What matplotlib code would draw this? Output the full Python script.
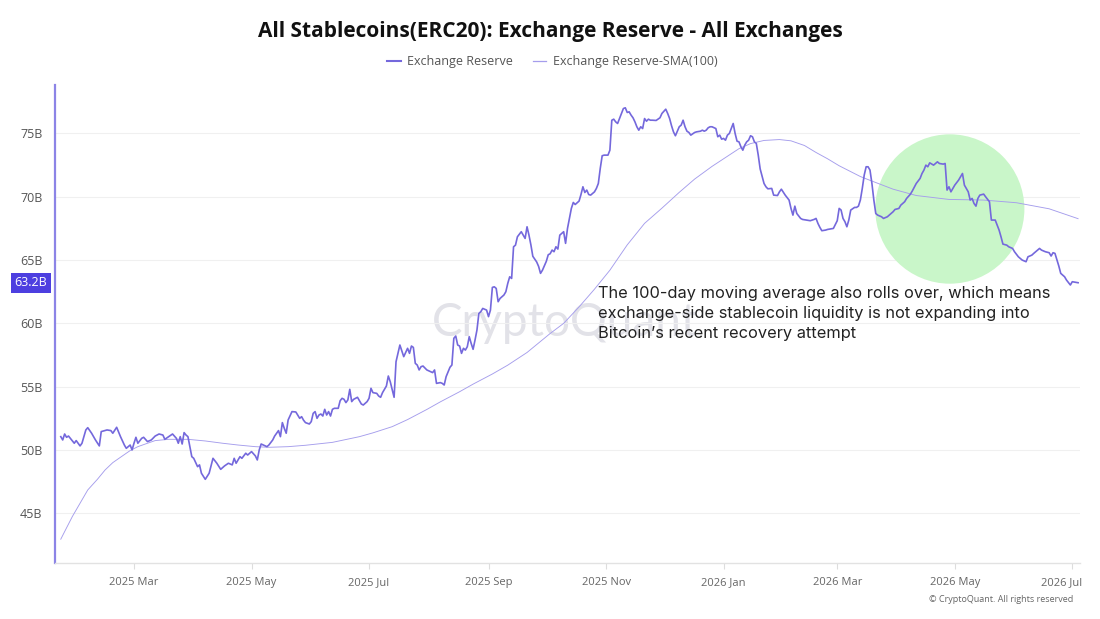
import numpy as np
import matplotlib
matplotlib.use("Agg")
import matplotlib.pyplot as plt
import matplotlib.dates as mdates
import matplotlib.transforms as mtransforms
from matplotlib.patches import Ellipse
from matplotlib.lines import Line2D

# --- data (billions USD) ---
start_date = np.datetime64("2025-01-22")

reserve_day = [
    0, 1, 2, 3, 4, 7, 8, 10, 11, 13, 14, 16, 18, 20, 21, 24, 26, 27, 29, 31,
    33, 34, 36, 37, 38, 39, 40, 42, 43, 45, 47, 49, 51, 53, 54, 58, 60, 61, 62, 63,
    64, 65, 66, 68, 69, 71, 72, 73, 75, 77, 79, 81, 83, 85, 87, 89, 90, 91, 93, 94,
    96, 97, 99, 101, 102, 103, 104, 107, 108, 110, 111, 113, 114, 115, 116, 117, 118, 120, 122, 124,
    125, 126, 127, 129, 130, 131, 132, 133, 134, 135, 136, 137, 138, 139, 140, 141, 142, 144, 145, 146,
    147, 148, 149, 150, 151, 152, 154, 155, 156, 157, 159, 160, 161, 162, 164, 165, 166, 167, 169, 170,
    171, 172, 173, 174, 175, 176, 177, 178, 180, 181, 182, 183, 184, 185, 186, 187, 188, 190, 192, 193,
    194, 195, 197, 198, 199, 200, 202, 203, 204, 205, 206, 207, 208, 209, 210, 211, 212, 213, 214, 215,
    216, 217, 218, 219, 221, 222, 223, 224, 225, 226, 227, 228, 230, 231, 232, 233, 234, 235, 236, 237,
    239, 240, 241, 242, 243, 244, 245, 247, 248, 249, 250, 252, 253, 254, 255, 256, 257, 258, 259, 261,
    262, 263, 264, 265, 266, 267, 269, 270, 271, 272, 273, 274, 275, 277, 278, 279, 280, 281, 282, 284,
    285, 286, 287, 288, 289, 290, 292, 293, 294, 295, 296, 297, 298, 299, 300, 301, 302, 303, 304, 305,
    306, 307, 309, 310, 311, 312, 314, 315, 316, 317, 318, 319, 320, 321, 322, 323, 324, 325, 326, 327,
    329, 330, 332, 333, 334, 335, 336, 337, 338, 340, 341, 342, 343, 344, 345, 346, 347, 348, 349, 350,
    351, 352, 353, 354, 355, 356, 357, 358, 359, 360, 361, 362, 363, 365, 366, 367, 369, 370, 372, 373,
    374, 376, 378, 379, 380, 381, 382, 384, 385, 387, 389, 391, 392, 393, 394, 395, 397, 398, 401, 403,
    404, 405, 406, 407, 408, 409, 410, 412, 413, 414, 415, 416, 417, 418, 419, 420, 421, 422, 423, 424,
    426, 427, 429, 430, 432, 433, 435, 436, 438, 439, 441, 442, 444, 446, 447, 448, 449, 450, 451, 453,
    455, 456, 458, 459, 460, 461, 462, 464, 466, 468, 469, 471, 472, 473, 474, 475, 476, 477, 479, 480,
    482, 483, 485, 486, 487, 488, 489, 491, 492, 494, 495, 497, 499, 501, 502, 504, 505, 508, 509, 511,
    513, 514, 515, 516, 518, 519, 521, 522, 524, 525, 528,
]
reserve_val = [
    51.05, 50.79, 51.26, 51.00, 51.10, 50.53, 50.74, 50.32, 50.53, 51.58, 51.76, 51.32, 50.79, 50.32, 51.45, 51.58, 51.53, 51.32, 51.79, 51.05,
    50.39, 50.13, 50.39, 50.00, 50.53, 51.00, 50.53, 50.92, 51.00, 50.66, 50.79, 51.10, 51.26, 51.18, 50.84, 51.26, 50.92, 50.53, 51.05, 50.47,
    51.37, 51.18, 51.05, 49.47, 49.34, 48.68, 48.82, 48.16, 47.68, 48.16, 49.34, 48.95, 48.47, 48.74, 48.95, 48.82, 49.34, 48.95, 49.47, 49.34,
    49.74, 49.60, 49.87, 49.53, 49.21, 50.00, 50.47, 50.26, 50.39, 50.79, 51.10, 51.53, 51.05, 52.16, 51.71, 51.32, 52.37, 53.03, 53.00, 52.50,
    52.63, 52.35, 52.16, 52.05, 52.24, 52.89, 53.03, 52.50, 52.76, 52.84, 52.68, 53.21, 52.76, 53.03, 52.68, 53.21, 53.29, 53.29, 53.89, 54.08,
    54.00, 53.74, 53.95, 54.79, 53.82, 54.00, 54.16, 53.89, 53.63, 53.55, 53.82, 54.08, 54.87, 54.53, 54.47, 54.26, 54.16, 54.53, 55.05, 55.84,
    55.39, 54.79, 54.16, 56.97, 57.63, 58.29, 57.84, 57.37, 58.03, 57.63, 58.21, 58.10, 56.84, 56.71, 56.32, 56.58, 56.63, 56.32, 56.18, 56.11,
    56.32, 55.26, 55.32, 55.26, 55.13, 55.79, 56.53, 56.71, 58.82, 59.00, 58.29, 58.21, 57.63, 58.03, 57.89, 58.16, 58.95, 58.42, 57.95, 58.68,
    59.47, 60.79, 60.92, 61.18, 61.05, 60.53, 61.05, 62.84, 62.89, 62.76, 61.71, 61.97, 62.24, 62.50, 63.16, 63.68, 63.55, 66.05, 66.18, 66.84,
    67.24, 66.97, 66.71, 67.63, 66.97, 66.20, 65.30, 64.85, 64.50, 63.95, 64.20, 64.90, 65.42, 65.50, 65.79, 65.66, 66.05, 65.87, 66.97, 67.24,
    66.32, 67.50, 68.29, 69.08, 69.55, 69.39, 69.66, 70.18, 70.79, 70.34, 70.53, 70.18, 70.13, 70.39, 70.66, 71.05, 72.24, 73.24, 73.29, 73.29,
    73.68, 76.05, 76.13, 75.92, 75.79, 76.18, 76.97, 77.03, 76.66, 76.71, 76.45, 76.24, 75.92, 75.53, 75.26, 75.53, 75.39, 76.18, 75.97, 76.13,
    76.05, 76.05, 76.03, 76.13, 76.24, 76.58, 76.92, 76.58, 76.18, 75.61, 75.13, 74.82, 75.18, 75.53, 75.66, 76.05, 75.53, 75.18, 75.08, 74.87,
    75.08, 75.13, 75.18, 75.26, 75.18, 75.26, 75.45, 75.53, 75.53, 75.39, 74.74, 74.87, 74.55, 74.61, 74.47, 74.87, 75.00, 75.39, 75.79, 75.00,
    74.39, 74.34, 73.95, 73.68, 74.08, 74.34, 74.47, 74.82, 74.74, 74.34, 74.21, 73.29, 72.20, 71.05, 70.79, 70.63, 70.66, 70.13, 70.10, 70.39,
    70.60, 70.13, 69.74, 69.08, 68.55, 69.26, 68.68, 68.29, 68.21, 68.16, 68.11, 68.21, 68.29, 67.89, 67.58, 67.32, 67.37, 67.42, 67.50, 68.11,
    69.08, 68.95, 68.29, 68.03, 67.63, 68.16, 68.95, 69.16, 69.16, 69.26, 69.74, 70.66, 71.71, 72.37, 72.37, 72.11, 71.05, 69.74, 68.68, 68.55,
    68.42, 68.29, 68.42, 68.55, 68.82, 69.00, 69.08, 69.34, 69.61, 69.87, 70.21, 70.47, 71.05, 71.45, 71.84, 72.11, 72.50, 72.37, 72.68, 72.50,
    72.76, 72.63, 72.58, 72.63, 70.53, 70.79, 70.39, 70.92, 71.32, 71.84, 70.92, 70.39, 69.74, 69.87, 69.47, 69.26, 69.87, 70.13, 70.21, 70.00,
    69.61, 68.16, 68.16, 67.76, 67.37, 66.84, 66.26, 66.18, 66.05, 65.92, 65.66, 65.26, 65.00, 64.87, 65.26, 65.39, 65.53, 65.92, 65.79, 65.66,
    65.58, 65.32, 65.58, 65.53, 64.53, 63.95, 63.68, 63.42, 63.03, 63.29, 63.21,
]

sma_day = [
    0, 2, 6, 10, 14, 19, 23, 27, 32, 36, 40, 45, 49, 56, 66, 75, 84, 92, 101, 108,
    118, 127, 141, 155, 162, 172, 180, 190, 197, 207, 214, 224, 232, 242, 254, 261, 269, 277, 285, 294,
    303, 312, 321, 329, 338, 346, 352, 358, 365, 373, 379, 386, 392, 398, 404, 415, 420, 432, 444, 461,
    479, 496, 513, 528,
]
sma_val = [
    42.95, 43.55, 44.74, 45.79, 46.84, 47.68, 48.42, 49.00, 49.53, 49.95, 50.26, 50.53, 50.74, 50.84, 50.84, 50.71, 50.53, 50.39, 50.26, 50.21,
    50.26, 50.37, 50.60, 51.05, 51.35, 51.84, 52.40, 53.20, 53.80, 54.60, 55.20, 56.00, 56.70, 57.70, 59.20, 60.00, 61.30, 62.70, 64.20, 66.20,
    67.90, 69.10, 70.35, 71.40, 72.40, 73.20, 73.80, 74.20, 74.45, 74.52, 74.42, 74.05, 73.50, 73.00, 72.45, 71.60, 71.30, 70.60, 70.10, 69.79,
    69.74, 69.53, 69.05, 68.27,
]

last_value = 63.2
month_ticks = ["2025-03-01", "2025-05-01", "2025-07-01", "2025-09-01", "2025-11-01",
               "2026-01-01", "2026-03-01", "2026-05-01", "2026-07-01"]
ytick_vals = [45, 50, 55, 60, 65, 70, 75]

reserve_dates = start_date + np.array(reserve_day).astype("timedelta64[D]")
sma_dates = start_date + np.array(sma_day).astype("timedelta64[D]")

# --- figure ---
fig = plt.figure(figsize=(11, 6.19), dpi=100)
ax = fig.add_axes([55 / 1100, 56 / 619, 1025 / 1100, 478 / 619])

line_col = "#7468dc"
sma_col = "#a59dec"

ax.plot(reserve_dates, reserve_val, color=line_col, lw=1.2, zorder=4)
ax.plot(sma_dates, sma_val, color=sma_col, lw=0.65, zorder=3)

# highlight circle (annotation, placed in axes space)
ax.add_patch(Ellipse((0.873, 0.7406), 0.1455, 0.3125, transform=ax.transAxes,
                     fc="#c9f6c9", ec="none", zorder=1))

# watermark
ax.text(0.498, 0.503, "CryptoQuant", transform=ax.transAxes, ha="center", va="center",
        fontsize=33, color="#e2e2e8", family="Lato", zorder=0)

# axes limits / ticks
ax.set_xlim(start_date - np.timedelta64(3, "D"), start_date + np.timedelta64(529, "D"))
ax.set_ylim(41.07, 78.83)
ax.set_yticks(ytick_vals)
ax.set_yticklabels([f"{v}B" for v in ytick_vals])
ax.set_xticks([np.datetime64(d) for d in month_ticks])
ax.xaxis.set_major_formatter(mdates.DateFormatter("%Y %b"))

ax.tick_params(axis="y", length=0, pad=9, labelsize=9, labelcolor="#555555")
ax.tick_params(axis="x", length=4, color="#dddddd", pad=6, labelsize=8, labelcolor="#666666")
for lab in ax.get_xticklabels() + ax.get_yticklabels():
    lab.set_family("Open Sans")
last_lab = ax.get_xticklabels()[-1]
last_lab.set_ha("right")
last_lab.set_transform(last_lab.get_transform() +
                       mtransforms.ScaledTranslation(0.10, 0, fig.dpi_scale_trans))

ax.grid(axis="y", color="#f0f0f0", lw=0.8, zorder=0)
ax.set_axisbelow(True)
for s in ["top", "right"]:
    ax.spines[s].set_visible(False)
ax.spines["left"].set_color("#8c84e6")
ax.spines["left"].set_linewidth(1.6)
ax.spines["bottom"].set_color("#e2e2e2")
ax.spines["bottom"].set_linewidth(1.0)

# current value tag on the y axis
tag_tr = mtransforms.blended_transform_factory(ax.transAxes, ax.transData)
ax.text(-0.0075, last_value, f"{last_value}B", transform=tag_tr, ha="right", va="center",
        fontsize=9, color="white", family="Open Sans",
        bbox=dict(boxstyle="square,pad=0.3", fc="#4d3fe0", ec="none"))

# commentary text
ax.text(0.5298, 0.5795,
        "The 100-day moving average also rolls over, which means\n"
        "exchange-side stablecoin liquidity is not expanding into\n"
        "Bitcoin\u2019s recent recovery attempt",
        transform=ax.transAxes, ha="left", va="top", fontsize=11.8, family="Inter",
        color="#222222", linespacing=1.4, zorder=6)

# title and legend
fig.text(0.5, 1 - 32 / 619, "All Stablecoins(ERC20): Exchange Reserve - All Exchanges",
         ha="center", va="center", fontsize=15, fontweight="bold", family="Open Sans",
         color="#111111")
handles = [Line2D([], [], color=line_col, lw=1.5), Line2D([], [], color=sma_col, lw=0.9)]
fig.legend(handles, ["Exchange Reserve", "Exchange Reserve-SMA(100)"],
           loc="center", bbox_to_anchor=(552 / 1100, 1 - 62 / 619), ncol=2, frameon=False,
           handlelength=1.1, handletextpad=0.5, columnspacing=1.6,
           prop={"family": "Open Sans", "size": 9}, labelcolor="#555555")

fig.text(1073 / 1100, 1 - 600 / 619, "\u00a9 CryptoQuant. All rights reserved",
         ha="right", va="center", fontsize=6.5, color="#666666", family="Open Sans")

fig.savefig("out.png", dpi=100, facecolor="white")
